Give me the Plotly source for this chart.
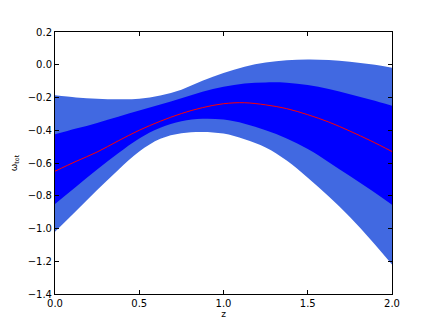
import plotly.graph_objects as go

# values
z = [0.0, 0.125, 0.25, 0.375, 0.5, 0.625, 0.75, 0.875, 1.0,
     1.125, 1.25, 1.375, 1.5, 1.625, 1.75, 1.875, 2.0]
w_mean = [-0.65, -0.59, -0.533, -0.465, -0.40, -0.345, -0.298, -0.262, -0.238,
          -0.232, -0.245, -0.268, -0.305, -0.35, -0.405, -0.465, -0.53]
w_1s_hi = [-0.425, -0.39, -0.355, -0.318, -0.28, -0.243, -0.205, -0.165, -0.135,
           -0.115, -0.108, -0.11, -0.124, -0.148, -0.18, -0.213, -0.25]
w_1s_lo = [-0.85, -0.745, -0.64, -0.54, -0.45, -0.385, -0.345, -0.33, -0.335,
           -0.36, -0.40, -0.45, -0.515, -0.595, -0.68, -0.765, -0.855]
w_2s_hi = [-0.187, -0.20, -0.207, -0.211, -0.208, -0.188, -0.152, -0.098, -0.05,
           -0.012, 0.013, 0.027, 0.032, 0.029, 0.019, 0.003, -0.018]
w_2s_lo = [-1.02, -0.893, -0.765, -0.642, -0.53, -0.452, -0.418, -0.41, -0.42,
           -0.455, -0.505, -0.585, -0.69, -0.805, -0.93, -1.07, -1.22]

fig = go.Figure()

# outer (2 sigma) band
fig.add_trace(go.Scatter(x=z, y=w_2s_lo, mode="lines", line=dict(width=0, shape="spline"),
                         showlegend=False, hoverinfo="skip"))
fig.add_trace(go.Scatter(x=z, y=w_2s_hi, mode="lines", line=dict(width=0, shape="spline"),
                         fill="tonexty", fillcolor="#4169E1", showlegend=False))

# inner (1 sigma) band
fig.add_trace(go.Scatter(x=z, y=w_1s_lo, mode="lines", line=dict(width=0, shape="spline"),
                         showlegend=False, hoverinfo="skip"))
fig.add_trace(go.Scatter(x=z, y=w_1s_hi, mode="lines", line=dict(width=0, shape="spline"),
                         fill="tonexty", fillcolor="#0000FF", showlegend=False))

# mean
fig.add_trace(go.Scatter(x=z, y=w_mean, mode="lines",
                         line=dict(color="red", width=1, shape="spline"), showlegend=False))

axis_common = dict(
    showline=True, linecolor="black", linewidth=1, mirror="allticks",
    ticks="inside", ticklen=4, tickcolor="black", showgrid=False, zeroline=False,
    automargin=False,
    tickfont=dict(family="DejaVu Sans", size=10, color="black"),
)

# page body has an 8px default margin, so shift the plot area back by that much
fig.update_layout(
    width=436, height=327,
    margin=dict(l=47, r=52, t=24, b=41),
    paper_bgcolor="white", plot_bgcolor="white",
    xaxis=dict(range=[0, 2], dtick=0.5, tickformat=".1f",
               title=dict(text="z", font=dict(family="DejaVu Sans", size=9, color="black"),
                          standoff=2),
               **axis_common),
    yaxis=dict(range=[-1.4, 0.2], dtick=0.2, tickformat=".1f",
               title=dict(text="ω<sub>tot</sub>", font=dict(family="DejaVu Sans", size=9, color="black"),
                          standoff=8),
               **axis_common),
)

fig.write_html("out.html")
